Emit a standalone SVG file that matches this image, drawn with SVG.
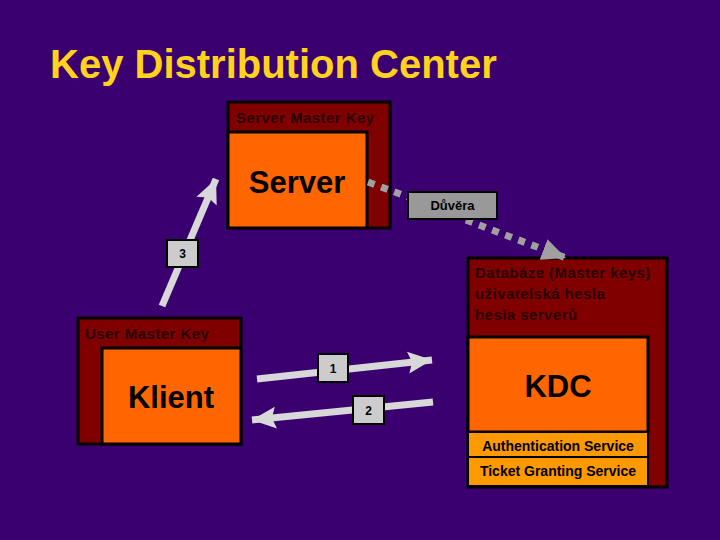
<svg xmlns="http://www.w3.org/2000/svg" width="720" height="540" viewBox="0 0 720 540">
<defs>
<marker id="ah" markerUnits="userSpaceOnUse" markerWidth="30" markerHeight="30" viewBox="0 0 30 30" refX="24" refY="15" orient="auto"><path d="M0,4 L24,15 L0,26 L4,15 Z" fill="#D8D8D8"/></marker>
<marker id="ahg" markerUnits="userSpaceOnUse" markerWidth="30" markerHeight="30" viewBox="0 0 30 30" refX="24" refY="15" orient="auto"><path d="M0,4 L24,15 L0,26 Z" fill="#A0A0A0"/></marker>
</defs>
<style>
text{font-family:"Liberation Sans",Arial,sans-serif;font-weight:bold}
.outer{fill:#800000;stroke:#000;stroke-width:3}
.inner{fill:#FF6600;stroke:#000;stroke-width:3}
.svc{fill:#FF9900;stroke:#000;stroke-width:2}
.lab{fill:#CCCCCC;stroke:#000;stroke-width:2}
.key{font-size:15px;letter-spacing:0.45px;fill:#2a0000}
.big{font-size:31px;fill:#000;text-anchor:middle}
.num{font-size:12px;fill:#000;text-anchor:middle}
.arr{stroke:#D8D8D8;stroke-width:7;fill:none}
.dot{stroke:#A0A0A0;stroke-width:7;stroke-dasharray:7 7;fill:none}
</style>
<rect width="720" height="540" fill="#3B0070"/>
<text x="50" y="78" font-size="40" fill="#FFD21E">Key Distribution Center</text>

<g id="server">
<rect class="outer" x="228" y="102" width="162" height="126"/>
<rect class="inner" x="228" y="132" width="139" height="96"/>
<text class="key" x="236" y="123">Server Master Key</text>
<text class="big" x="297" y="193">Server</text>
</g>

<g id="klient">
<rect class="outer" x="78" y="318" width="163" height="126"/>
<rect class="inner" x="102" y="348" width="139" height="96"/>
<text class="key" x="85" y="339">User Master Key</text>
<text class="big" x="171" y="408">Klient</text>
</g>

<g id="kdc">
<rect class="outer" x="468" y="258" width="199" height="229"/>
<rect class="inner" x="468" y="337" width="180" height="95"/>
<rect class="svc" x="468" y="432" width="180" height="25"/>
<rect class="svc" x="468" y="457" width="180" height="29"/>
<text class="key" x="475" y="278">Databáze (Master keys)</text>
<text class="key" x="475" y="299">uživatelská hesla</text>
<text class="key" x="475" y="320">hesla serverů</text>
<text class="big" x="558" y="397" font-size="33">KDC</text>
<text x="558" y="451" font-size="14" text-anchor="middle" fill="#000">Authentication Service</text>
<text x="558" y="476" font-size="14" text-anchor="middle" fill="#000">Ticket Granting Service</text>
</g>

<g id="connectors">
<path class="dot" d="M368,182 L408,197"/>
<path class="dot" d="M466,220 L566,258" marker-end="url(#ahg)"/>
<path class="arr" d="M162,306 L216,179" marker-end="url(#ah)"/>
<path class="arr" d="M257,379 L432,360" marker-end="url(#ah)"/>
<path class="arr" d="M433,402 L252,420" marker-end="url(#ah)"/>
</g>

<g id="duvera">
<rect x="408" y="192" width="89" height="27" fill="#999999" stroke="#000" stroke-width="2"/>
<text x="452.5" y="210" font-size="13" text-anchor="middle" fill="#000">Důvěra</text>
</g>

<g id="label3"><rect class="lab" x="167" y="240" width="31" height="27"/><text class="num" x="182.5" y="258">3</text></g>
<g id="label1"><rect class="lab" x="318" y="354" width="30" height="28"/><text class="num" x="333" y="373">1</text></g>
<g id="label2"><rect class="lab" x="353" y="396" width="31" height="28"/><text class="num" x="368.5" y="415">2</text></g>
</svg>
